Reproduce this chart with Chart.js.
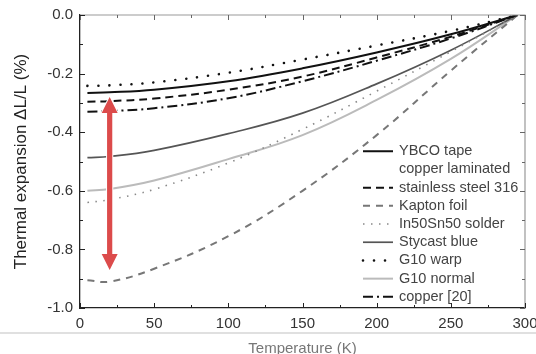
<!DOCTYPE html>
<html>
<head>
<meta charset="utf-8">
<script src="https://cdn.jsdelivr.net/npm/chart.js@4/dist/chart.umd.min.js"></script>
<style>
  html, body { margin: 0; padding: 0; background: #fff; }
  #wrap { width: 536px; height: 354px; }
</style>
</head>
<body>
<div id="wrap"><canvas id="chart"></canvas></div>
<script>
const temps = [5, 20, 50, 100, 150, 200, 250, 295];

// thermal expansion dL/L (%)
const ybco      = [-0.266, -0.264, -0.255, -0.226, -0.182, -0.128, -0.066, 0];
const steel316  = [-0.296, -0.294, -0.285, -0.255, -0.210, -0.145, -0.074, 0];
const kapton    = [-0.905, -0.910, -0.866, -0.755, -0.600, -0.410, -0.190, 0];
const solder    = [-0.640, -0.630, -0.595, -0.505, -0.390, -0.260, -0.125, 0];
const stycast   = [-0.487, -0.483, -0.462, -0.405, -0.335, -0.235, -0.120, 0];
const g10warp   = [-0.242, -0.240, -0.230, -0.197, -0.152, -0.104, -0.054, 0];
const g10normal = [-0.600, -0.594, -0.565, -0.492, -0.410, -0.290, -0.150, 0];
const copper    = [-0.330, -0.328, -0.318, -0.284, -0.226, -0.156, -0.080, 0];

const legendLabels = [["YBCO tape", "copper laminated"], ["stainless steel 316"], ["Kapton foil"],
  ["In50Sn50 solder"], ["Stycast blue"], ["G10 warp"], ["G10 normal"], ["copper [20]"]];

// red double arrow at 20 K
const arrowT = 20;
const arrowTop = -0.28;
const arrowBottom = -0.87;

const xTicks = [0, 50, 100, 150, 200, 250, 300];
const yTicks = [0.0, -0.2, -0.4, -0.6, -0.8, -1.0];

function pts(vals) {
  return temps.map((t, i) => ({ x: t, y: vals[i] }));
}

function line(label, vals, color, width, dash, cap) {
  return {
    label: label,
    data: pts(vals),
    borderColor: color,
    borderWidth: width,
    borderDash: dash,
    borderCapStyle: cap || 'butt',
    pointRadius: 0,
    fill: false,
    tension: 0.4,
  };
}

const datasets = [
  line(legendLabels[0].join(' '), ybco, '#111', 2, []),
  line(legendLabels[1][0], steel316, '#111', 2, [8, 5]),
  line(legendLabels[2][0], kapton, '#777', 2, [7, 6]),
  line(legendLabels[3][0], solder, '#888', 1.6, [1.5, 6.5]),
  line(legendLabels[4][0], stycast, '#555', 1.7, []),
  line(legendLabels[5][0], g10warp, '#111', 2.6, [0.01, 11], 'round'),
  line(legendLabels[6][0], g10normal, '#bbb', 2, []),
  line(legendLabels[7][0], copper, '#111', 2, [10, 4, 2, 4]),
];

// inward ticks on all sides, grey top/right frame, arrow and legend
const decorations = {
  id: 'decorations',
  beforeDraw(chart) {
    const ctx = chart.ctx;
    const area = chart.chartArea;
    ctx.save();
    ctx.strokeStyle = '#d6d6d6';
    ctx.lineWidth = 1.5;
    ctx.beginPath();
    ctx.moveTo(0, area.bottom + 25);
    ctx.lineTo(chart.width, area.bottom + 25);
    ctx.stroke();
    ctx.restore();
  },
  afterDraw(chart) {
    const ctx = chart.ctx;
    const area = chart.chartArea;
    const xs = chart.scales.x;
    const ys = chart.scales.y;
    ctx.save();

    // top and right frame
    ctx.strokeStyle = '#999';
    ctx.lineWidth = 1.2;
    ctx.beginPath();
    ctx.moveTo(area.left, area.top);
    ctx.lineTo(area.right, area.top);
    ctx.lineTo(area.right, area.bottom);
    ctx.stroke();

    // ticks
    ctx.lineWidth = 1;
    xs.ticks.forEach(t => {
      const px = Math.round(xs.getPixelForValue(t.value)) + 0.5;
      const major = t.value % 50 === 0;
      const len = major ? 5 : 3;
      ctx.strokeStyle = '#222';
      ctx.beginPath();
      ctx.moveTo(px, area.bottom);
      ctx.lineTo(px, area.bottom - len);
      ctx.stroke();
      ctx.strokeStyle = '#666';
      ctx.beginPath();
      ctx.moveTo(px, area.top);
      ctx.lineTo(px, area.top + len);
      ctx.stroke();
    });
    ys.ticks.forEach(t => {
      const py = Math.round(ys.getPixelForValue(t.value)) + 0.5;
      const major = Math.round(t.value * 10) % 2 === 0;
      const len = major ? 5 : 3;
      ctx.strokeStyle = '#222';
      ctx.beginPath();
      ctx.moveTo(area.left, py);
      ctx.lineTo(area.left + len, py);
      ctx.stroke();
      ctx.strokeStyle = '#666';
      ctx.beginPath();
      ctx.moveTo(area.right, py);
      ctx.lineTo(area.right - len, py);
      ctx.stroke();
    });

    // legend
    const lx0 = area.right - 162;
    const lx1 = area.right - 132;
    const tx = area.right - 126;
    let ly = ys.getPixelForValue(-0.465);
    const rowH = 18.2;
    ctx.font = '14.5px "Liberation Sans", Arial, sans-serif';
    ctx.textBaseline = 'middle';
    ctx.textAlign = 'left';
    chart.data.datasets.forEach((ds, i) => {
      ctx.strokeStyle = ds.borderColor;
      ctx.lineWidth = ds.borderWidth;
      ctx.lineCap = ds.borderCapStyle;
      ctx.setLineDash(ds.borderDash);
      ctx.beginPath();
      ctx.moveTo(lx0, ly);
      ctx.lineTo(lx1, ly);
      ctx.stroke();
      ctx.setLineDash([]);
      ctx.fillStyle = '#444';
      legendLabels[i].forEach((txt, j) => {
        ctx.fillText(txt, tx, ly + j * rowH);
      });
      ly += rowH * legendLabels[i].length;
    });

    // red double arrow
    const ax = xs.getPixelForValue(arrowT);
    const y1 = ys.getPixelForValue(arrowTop);
    const y2 = ys.getPixelForValue(arrowBottom);
    const head = 16;
    const hw = 8;
    const sw = 2.6;
    ctx.lineCap = 'butt';
    ctx.beginPath();
    ctx.moveTo(ax, y1);
    ctx.lineTo(ax + hw, y1 + head);
    ctx.lineTo(ax + sw, y1 + head);
    ctx.lineTo(ax + sw, y2 - head);
    ctx.lineTo(ax + hw, y2 - head);
    ctx.lineTo(ax, y2);
    ctx.lineTo(ax - hw, y2 - head);
    ctx.lineTo(ax - sw, y2 - head);
    ctx.lineTo(ax - sw, y1 + head);
    ctx.lineTo(ax - hw, y1 + head);
    ctx.closePath();
    ctx.strokeStyle = '#fff';
    ctx.lineWidth = 2;
    ctx.stroke();
    ctx.fillStyle = '#dc4b4b';
    ctx.fill();

    ctx.restore();
  }
};

new Chart(document.getElementById('chart'), {
  type: 'line',
  data: { datasets: datasets },
  options: {
    responsive: true,
    maintainAspectRatio: false,
    animation: false,
    layout: { padding: { left: 0, right: 11, top: 15, bottom: 0 } },
    plugins: {
      legend: { display: false },
      tooltip: { enabled: false },
    },
    scales: {
      x: {
        type: 'linear',
        min: 0,
        max: 300,
        afterBuildTicks: s => {
          s.ticks = [];
          for (let v = 0; v <= 300; v += 25) s.ticks.push({ value: v });
        },
        grid: { display: false, drawTicks: false },
        border: { display: true, color: '#222', width: 1.3 },
        ticks: {
          padding: 7,
          color: '#333',
          font: { family: '"Liberation Sans", Arial, sans-serif', size: 15 },
          maxRotation: 0,
          autoSkip: false,
          callback: v => (xTicks.includes(v) ? String(v) : ''),
        },
        title: {
          display: true,
          text: 'Temperature (K)',
          color: '#777',
          font: { family: '"Liberation Sans", Arial, sans-serif', size: 15, lineHeight: 1 },
          padding: { top: 0, bottom: -2 },
        },
        afterFit: s => {
          s.height = 46;
          s.paddingLeft = 0;
          s.paddingRight = 0;
        },
      },
      y: {
        type: 'linear',
        min: -1.0,
        max: 0,
        afterBuildTicks: s => {
          s.ticks = [];
          for (let k = -10; k <= 0; k++) s.ticks.push({ value: k / 10 });
        },
        grid: { display: false, drawTicks: false },
        border: { display: true, color: '#222', width: 1.3 },
        ticks: {
          padding: 7,
          color: '#333',
          font: { family: '"Liberation Sans", Arial, sans-serif', size: 15 },
          autoSkip: false,
          callback: v => {
            const r = Math.round(v * 10) / 10;
            return yTicks.some(t => Math.abs(t - r) < 1e-9) ? (r < 0 ? '-' : '') + Math.abs(r).toFixed(1) : '';
          },
        },
        title: {
          display: true,
          text: 'Thermal expansion \u0394L/L (%)',
          color: '#222',
          font: { family: '"Liberation Sans", Arial, sans-serif', size: 17, lineHeight: 1.2 },
          padding: { top: 11, bottom: 0 },
        },
        afterFit: s => {
          s.width = 80;
          s.paddingTop = 0;
          s.paddingBottom = 0;
        },
      },
    },
  },
  plugins: [decorations],
});
</script>
</body>
</html>
